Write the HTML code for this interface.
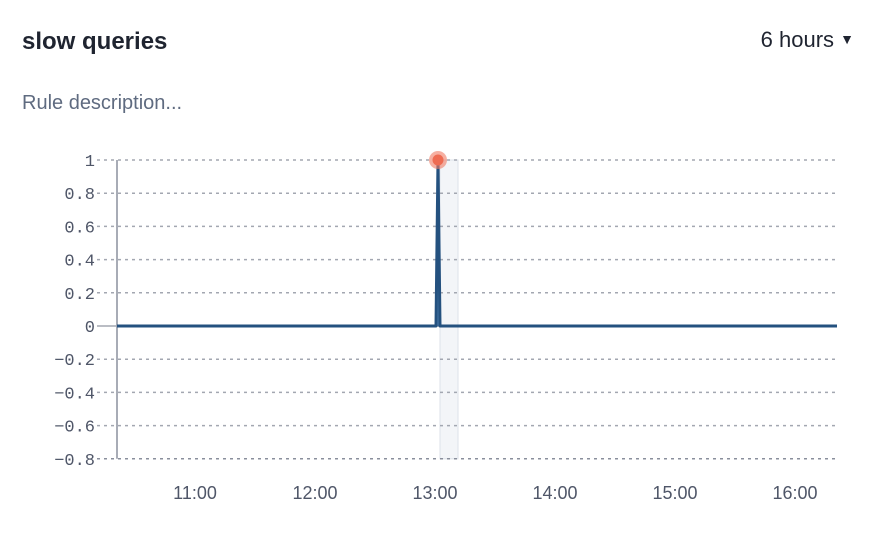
<!DOCTYPE html>
<html><head><meta charset="utf-8">
<style>
body{margin:0;width:882px;height:534px;background:#fff;font-family:"Liberation Sans",sans-serif;overflow:hidden;position:relative}
#title{position:absolute;left:22px;top:28px;font-size:24px;font-weight:bold;color:#1f2430}
#range{position:absolute;right:28px;top:27px;font-size:22px;color:#1f2430}
#desc{position:absolute;left:22px;top:92px;font-size:20px;color:#5f6b80}
svg{position:absolute;left:0;top:0}
</style></head><body>
<div id="title">slow queries</div>
<div id="range">6 hours <span style="font-size:14px;position:relative;top:-3px">▼</span></div>
<div id="desc">Rule description...</div>
<svg id="chart" width="882" height="534"></svg>
<script>
const times=[21,180.5,181.5,182.5,381];
const values=[0,0,1,0,0];
const yTicks=[1,0.8,0.6,0.4,0.2,0,-0.2,-0.4,-0.6,-0.8];
const yTickLabels=["1","0.8","0.6","0.4","0.2","0","−0.2","−0.4","−0.6","−0.8"];
const xTicks=[60,120,180,240,300,360];
const xTickLabels=["11:00","12:00","13:00","14:00","15:00","16:00"];
const bandStart=182.5, bandEnd=191.5;
const peakIndex=2;

const svg=document.getElementById('chart');
const NS='http://www.w3.org/2000/svg';
const L=117,R=836;
const x=t=>195+(t-60)*2;
const y=v=>326-v*166;
function mk(tag,attrs){const e=document.createElementNS(NS,tag);for(const k in attrs)e.setAttribute(k,attrs[k]);svg.appendChild(e);return e;}

const band=mk('rect',{x:x(bandStart),y:y(1),width:x(bandEnd)-x(bandStart),height:y(-0.8)-y(1),fill:'#f3f5f8',stroke:'#dde2ea','stroke-width':1});



yTicks.forEach((v,i)=>{
  const g=mk('line',{x1:97,x2:R,y1:y(v),y2:y(v),stroke:v===-0.8?'#8a8f9c':'#a3a7b1','stroke-width':1.5,'stroke-dasharray':v===0?'none':'3,4'});
  
  
  const t=mk('text',{x:95,y:y(v)+6,'text-anchor':'end','font-family':'"Liberation Mono",monospace','font-size':17,fill:'#4f5668'});
  t.textContent=yTickLabels[i];
  
  
});
const ax=mk('line',{x1:L,x2:L,y1:y(1),y2:y(-0.8),stroke:'#a8acb6','stroke-width':2});



xTicks.forEach((t,i)=>{
  const tx=mk('text',{x:x(t),y:499,'text-anchor':'middle','font-size':18,fill:'#4f5668'});
  tx.textContent=xTickLabels[i];
  
  
});

const pts=times.map((t,i)=>x(t)+','+y(values[i])).join(' ');
const area=mk('polygon',{points:pts+' '+x(times[times.length-1])+','+y(0)+' '+x(times[0])+','+y(0),fill:'#3b72aa','fill-opacity':0.9});


const line=mk('polyline',{points:pts,fill:'none',stroke:'#24517f','stroke-width':3,'stroke-linejoin':'round'});



const halo=mk('circle',{cx:x(times[peakIndex]),cy:y(values[peakIndex]),r:9,fill:'#f07a62','fill-opacity':0.6});


const dot=mk('circle',{cx:x(times[peakIndex]),cy:y(values[peakIndex]),r:5.5,fill:'#ee6b52'});


</script>
</body></html>
